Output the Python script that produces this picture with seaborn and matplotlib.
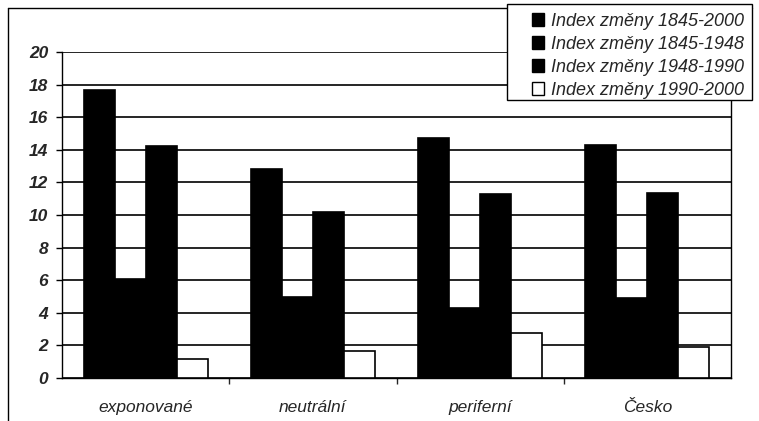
import matplotlib
matplotlib.use("Agg")
import matplotlib.pyplot as plt
import seaborn as sns
import pandas as pd
from matplotlib.patches import Rectangle

categories = ["exponované", "neutrální", "periferní", "Česko"]
series_names = ["Index změny 1845-2000", "Index změny 1845-1948",
                "Index změny 1948-1990", "Index změny 1990-2000"]
v_1845_2000 = [17.65, 12.8, 14.75, 14.3]
v_1845_1948 = [6.1, 4.95, 4.3, 4.9]
v_1948_1990 = [14.25, 10.2, 11.3, 11.35]
v_1990_2000 = [1.15, 1.65, 2.75, 1.9]
yticks = [0, 2, 4, 6, 8, 10, 12, 14, 16, 18, 20]

rows = []
for name, vals in zip(series_names, [v_1845_2000, v_1845_1948, v_1948_1990, v_1990_2000]):
    for c, v in zip(categories, vals):
        rows.append({"cat": c, "series": name, "value": v})
df = pd.DataFrame(rows)

sns.set_style("white")
plt.rcParams["font.family"] = ["Liberation Sans", "DejaVu Sans"]

W, H = 759, 421
fig = plt.figure(figsize=(W/100, H/100), dpi=100)
ax = fig.add_axes([62/W, 1-378/H, (731-62)/W, (378-52)/H])

palette = ["black", "black", "black", "white"]
sns.barplot(data=df, x="cat", y="value", hue="series", hue_order=series_names,
            order=categories, palette=palette, edgecolor="black", linewidth=1.2,
            width=0.74, ax=ax, saturation=1, legend=False, zorder=3)

ax.set_ylim(0, 20)
ax.set_yticks(yticks)
ax.set_yticklabels([str(t) for t in yticks], fontsize=12.5, fontweight="bold", fontstyle="italic")
ax.set_xticks(range(len(categories)))
ax.set_xticklabels(categories, fontsize=12.5, fontstyle="italic")
ax.set_xlim(-0.5, 3.5)
ax.set_xlabel("")
ax.set_ylabel("")
ax.yaxis.grid(True, color="black", linewidth=1.2, zorder=0)
ax.set_axisbelow(True)
for s in ax.spines.values():
    s.set_color("black")
    s.set_linewidth(1.0)
ax.spines["top"].set_visible(False)
ax.tick_params(axis="y", length=4, width=1, color="black", pad=6, left=True)
ax.tick_params(axis="x", length=0, pad=16)
ax.set_xticks([0.5, 1.5, 2.5], minor=True)
ax.tick_params(axis="x", which="minor", length=4, width=1, bottom=True, direction="out")

fig.add_artist(plt.Line2D([8/W, 8/W], [0, 1-8/H], color="black", lw=1, transform=fig.transFigure))
fig.add_artist(plt.Line2D([8/W, 752/W], [1-8/H, 1-8/H], color="black", lw=1, transform=fig.transFigure))

# legend frame box
fig.add_artist(Rectangle((507/W, 1-100/H), (752-507)/W, (100-4)/H, transform=fig.transFigure,
                         facecolor="white", edgecolor="black", linewidth=1.0, zorder=5))

handles = [Rectangle((0, 0), 1, 1, facecolor=c, edgecolor="black", linewidth=1) for c in palette]
leg = fig.legend(handles, series_names, loc="upper right", bbox_to_anchor=(748/W, 1-9/H),
                 frameon=False, prop={"size": 13, "style": "italic"},
                 handlelength=0.7, handleheight=0.7,
                 handletextpad=0.4, labelspacing=0.34, borderpad=0.2, borderaxespad=0)
leg.set_zorder(6)

fig.savefig("out.png", dpi=100)
